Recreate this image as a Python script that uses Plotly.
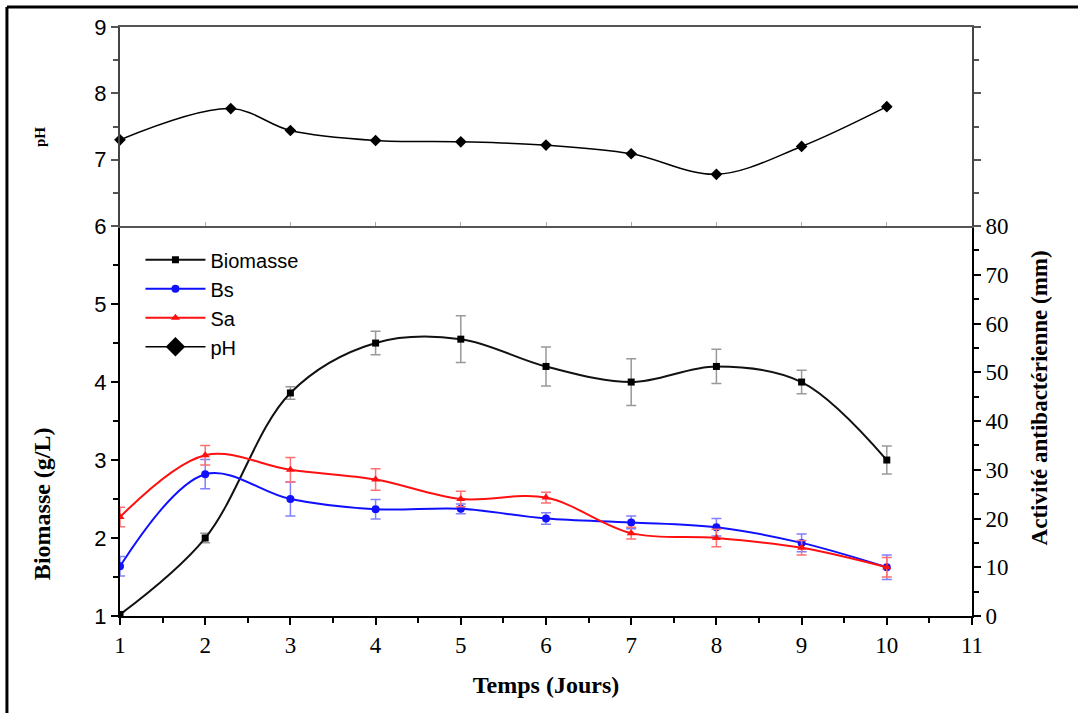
import plotly.graph_objects as go

days = [1, 2, 3, 4, 5, 6, 7, 8, 9, 10]
ph_days = [1, 2.3, 3, 4, 5, 6, 7, 8, 9, 10]
ph = [7.3, 7.77, 7.44, 7.29, 7.27, 7.22, 7.09, 6.78, 7.2, 7.8]
biomasse = [1.02, 2.0, 3.86, 4.5, 4.55, 4.2, 4.0, 4.2, 4.0, 3.0]
biomasse_err = [0.03, 0.06, 0.08, 0.15, 0.3, 0.25, 0.3, 0.22, 0.15, 0.18]
bs = [10.2, 29.1, 24.0, 21.9, 22.0, 20.0, 19.2, 18.2, 15.0, 10.0]
bs_err = [2.0, 3.0, 3.5, 2.0, 1.0, 1.2, 1.3, 1.8, 1.8, 2.5]
sa = [20.3, 33.0, 30.0, 28.0, 24.0, 24.3, 17.0, 16.0, 14.0, 10.0]
sa_err = [2.0, 2.0, 2.5, 2.2, 1.6, 1.1, 1.2, 1.8, 1.5, 2.0]

serif = "Liberation Serif"
sans = "Liberation Sans"

fig = go.Figure()

fig.add_trace(go.Scatter(
    x=days, y=biomasse, name="Biomasse", mode="lines+markers",
    line=dict(color="#111111", width=2, shape="spline", smoothing=1),
    marker=dict(symbol="square", size=7, color="black"),
    error_y=dict(type="data", array=biomasse_err, color="#999999", thickness=1.5, width=5),
    xaxis="x", yaxis="y"))
fig.add_trace(go.Scatter(
    x=days, y=bs, name="Bs", mode="lines+markers",
    line=dict(color="#1010ff", width=2, shape="spline", smoothing=1),
    marker=dict(symbol="circle", size=8, color="#1010ff"),
    error_y=dict(type="data", array=bs_err, color="#8080ff", thickness=1.5, width=5),
    xaxis="x", yaxis="y3"))
fig.add_trace(go.Scatter(
    x=days, y=sa, name="Sa", mode="lines+markers",
    line=dict(color="#ff1010", width=2, shape="spline", smoothing=1),
    marker=dict(symbol="triangle-up", size=8, color="#ff1010"),
    error_y=dict(type="data", array=sa_err, color="#ff7070", thickness=1.5, width=5),
    xaxis="x", yaxis="y3"))
fig.add_trace(go.Scatter(
    x=ph_days, y=ph, name="pH", mode="lines+markers", showlegend=False,
    line=dict(color="black", width=1.5, shape="spline", smoothing=1),
    marker=dict(symbol="diamond", size=9, color="black"),
    xaxis="x2", yaxis="y2", cliponaxis=False))
fig.add_trace(go.Scatter(
    x=[None], y=[None], name="pH", mode="lines+markers",
    line=dict(color="black", width=1.5),
    marker=dict(symbol="diamond", size=15, color="black"),
    xaxis="x2", yaxis="y2"))

split = 0.662
axis_common = dict(showline=True, linecolor="black", linewidth=2, showgrid=False,
                   zeroline=False, ticks="outside", tickcolor="black", ticklen=7, tickwidth=2)

fig.update_layout(
    width=1078, height=713,
    margin=dict(l=120, r=106, t=27, b=97),
    paper_bgcolor="white", plot_bgcolor="white",
    showlegend=True,
    legend=dict(x=0.024, y=0.638, xanchor="left", yanchor="top",
                font=dict(family=sans, size=20, color="black"),
                bgcolor="rgba(0,0,0,0)", tracegroupgap=0, itemwidth=60,
                traceorder="normal"),
    xaxis=dict(**axis_common, domain=[0, 1], anchor="y", range=[1, 11], dtick=1,
               tick0=1,
               minor=dict(dtick=0.5, ticks="outside", ticklen=5, tickwidth=2, tickcolor="black"),
               tickfont=dict(family=serif, size=23, color="black"),
               title=dict(text="<b>Temps (Jours)</b>", font=dict(family=serif, size=24, color="black"),
                          standoff=20)),
    yaxis=dict(**axis_common, domain=[0, split], anchor="x", range=[1, 6],
               tickvals=[1, 2, 3, 4, 5],
               minor=dict(dtick=0.5, ticks="outside", ticklen=5, tickwidth=2, tickcolor="black"),
               tickfont=dict(family=sans, size=22, color="black")),
    yaxis3=dict(**axis_common, overlaying="y", side="right", anchor="x", range=[0, 80],
                dtick=10,
                minor=dict(dtick=5, ticks="outside", ticklen=5, tickwidth=2, tickcolor="black"),
                tickfont=dict(family=serif, size=23, color="black")),
    xaxis2=dict(showline=True, linecolor="#555555", linewidth=2, mirror=True, showgrid=False,
                zeroline=False, domain=[0, 1], anchor="y2", range=[1, 11], dtick=1, tick0=1,
                ticks="inside", ticklen=4, tickcolor="#aaaaaa", showticklabels=False),
    yaxis2=dict(showline=True, linecolor="#444444", linewidth=2, mirror="allticks",
                showgrid=False, zeroline=False, ticks="outside", tickcolor="#555555",
                ticklen=7, tickwidth=2,
                domain=[split, 1], anchor="x2", range=[6, 9], dtick=1,
                minor=dict(dtick=0.5, ticks="outside", ticklen=5, tickwidth=1.5, tickcolor="#555555"),
                tickfont=dict(family=sans, size=22, color="black")),
    annotations=[
        dict(text="<b>pH</b>", xref="paper", yref="paper", x=-0.094, y=0.813,
             textangle=-90, showarrow=False, xanchor="center", yanchor="middle",
             font=dict(family=serif, size=15, color="black")),
        dict(text="<b>Biomasse (g/L)</b>", xref="paper", yref="paper", x=-0.0915, y=0.19,
             textangle=-90, showarrow=False, xanchor="center", yanchor="middle",
             font=dict(family=serif, size=24, color="black")),
        dict(text="<b>Activité antibactérienne (mm)</b>", xref="paper", yref="paper",
             x=1.079, y=0.37, textangle=-90, showarrow=False,
             xanchor="center", yanchor="middle",
             font=dict(family=serif, size=23, color="black")),
    ],
    shapes=[
        dict(type="line", xref="paper", yref="paper", x0=-0.1327, x1=1.15,
             y0=1.034, y1=1.034, line=dict(color="black", width=3)),
        dict(type="line", xref="paper", yref="paper", x0=-0.1327, x1=-0.1327,
             y0=1.034, y1=-0.2, line=dict(color="black", width=3)),
    ],
)

fig.write_html("out.html")
